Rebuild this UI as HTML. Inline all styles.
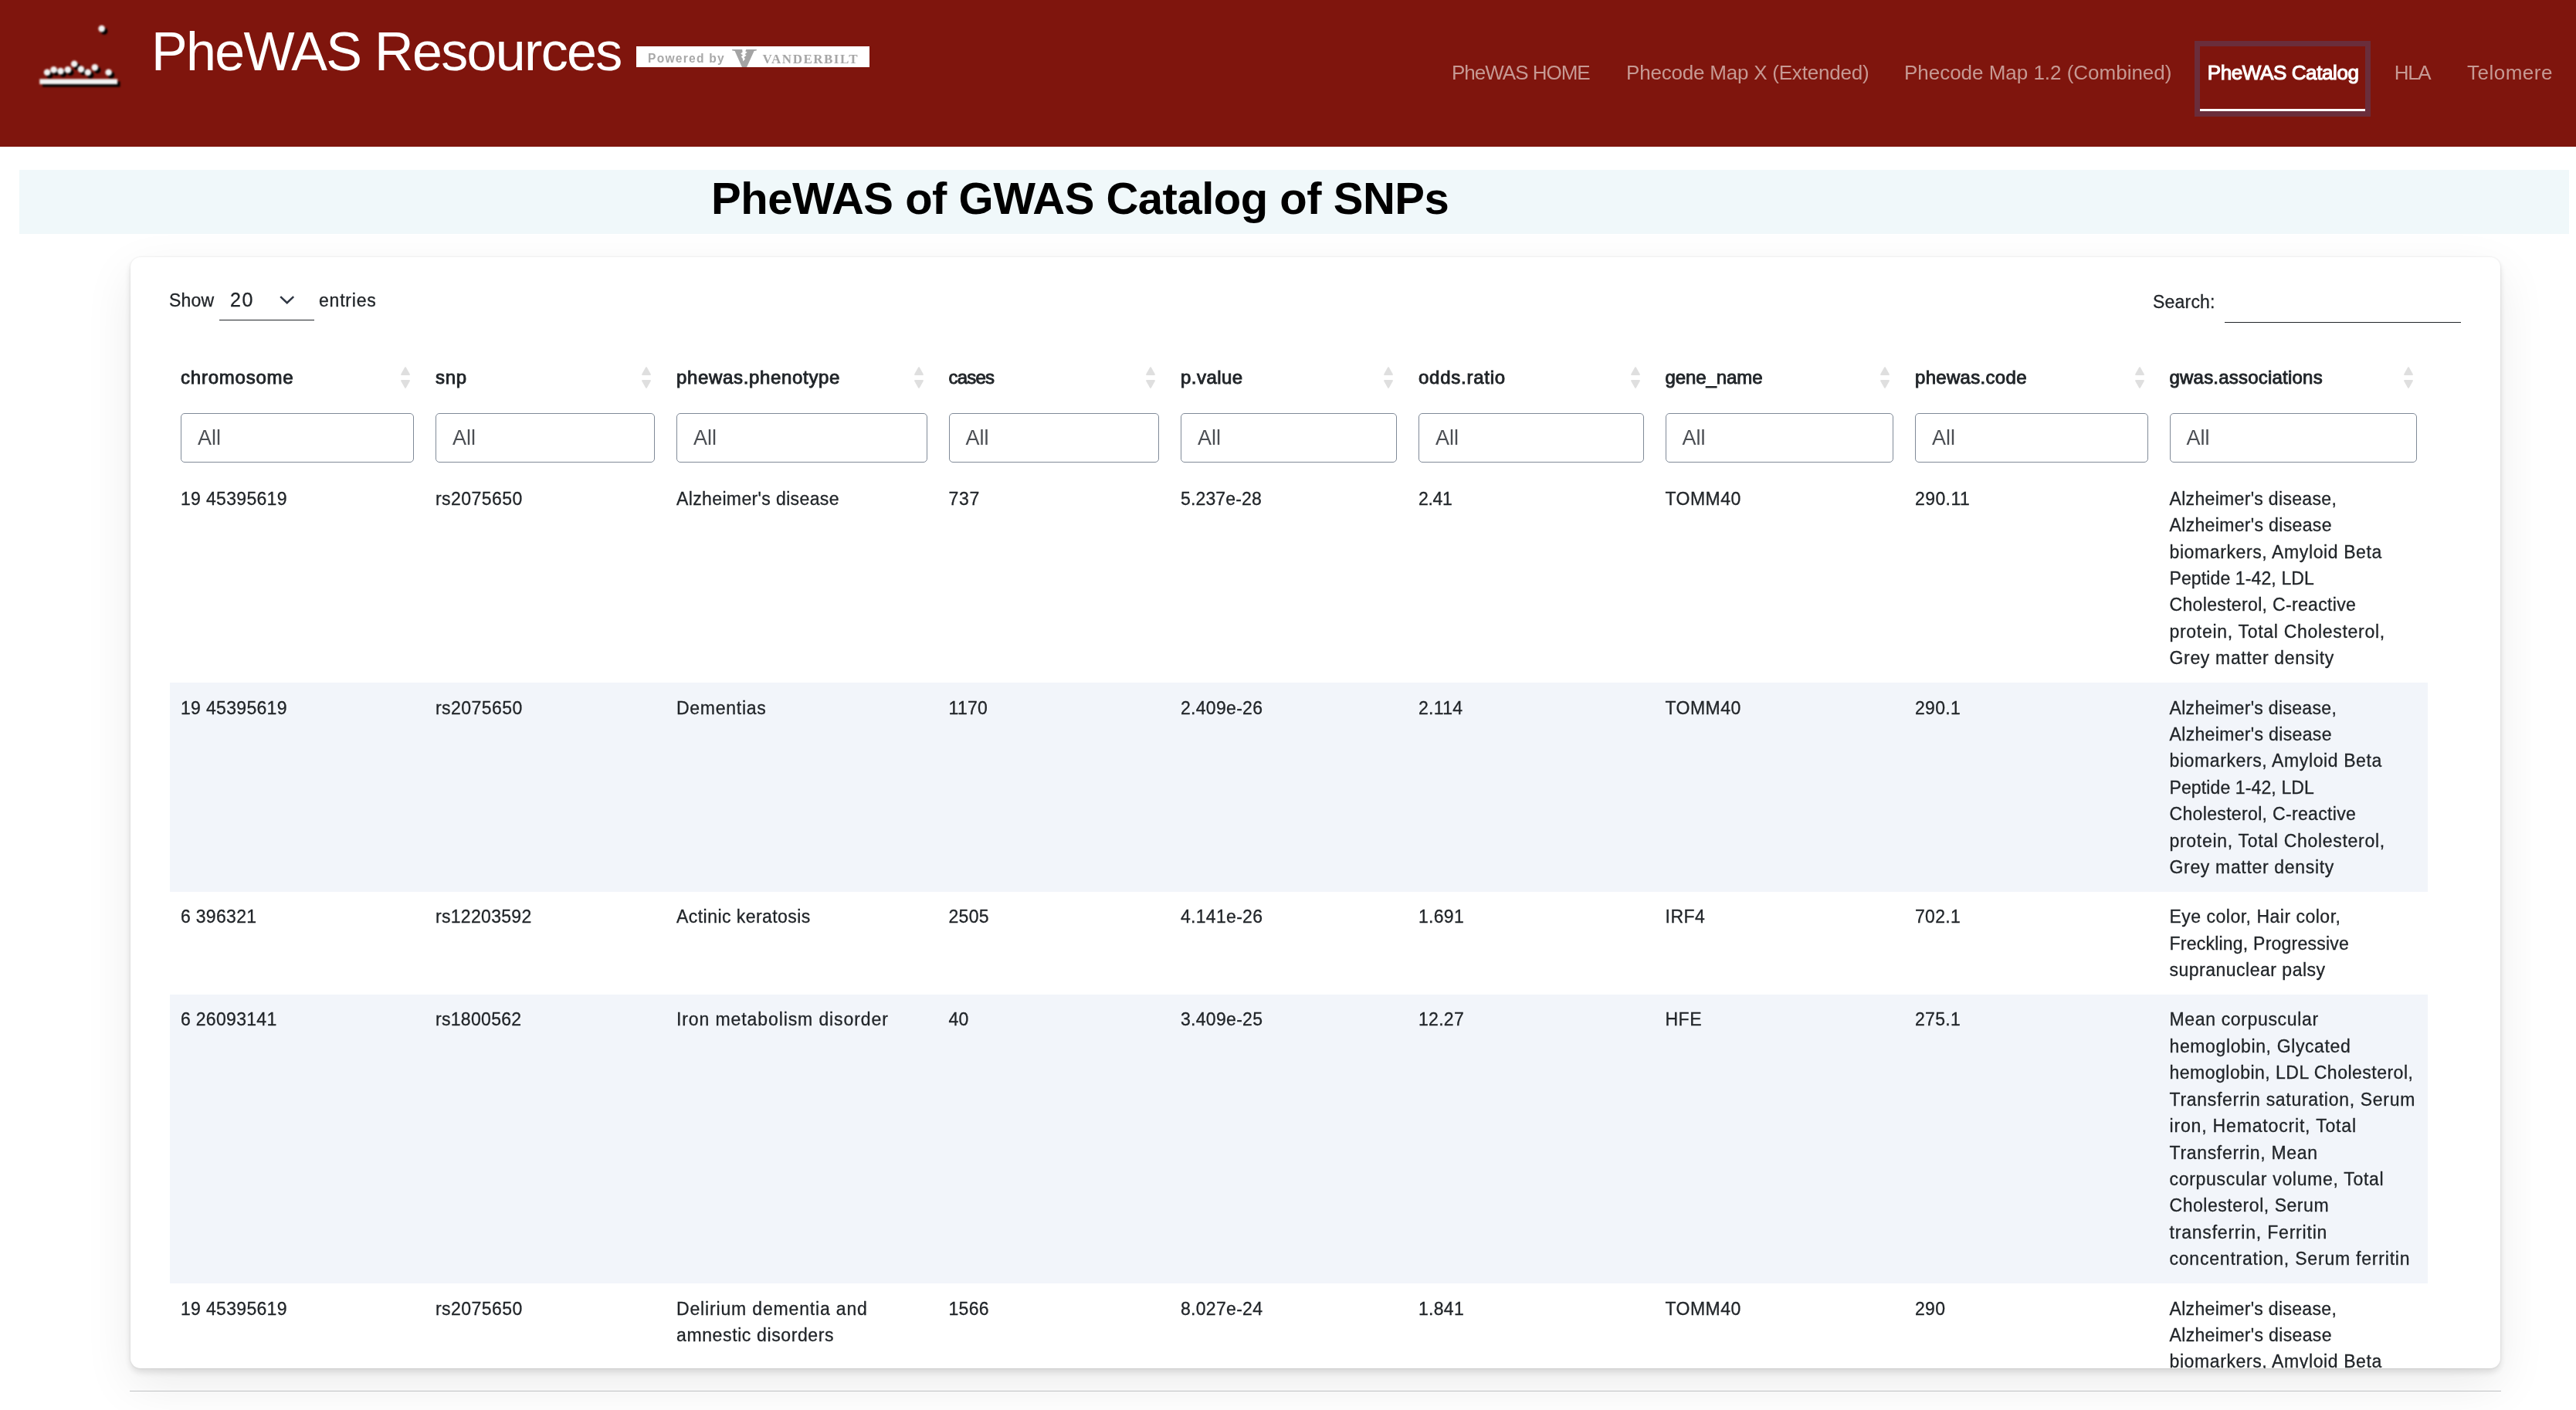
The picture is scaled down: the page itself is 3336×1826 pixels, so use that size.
<!DOCTYPE html>
<html lang="en">
<head>
<meta charset="utf-8">
<title>PheWAS Resources - PheWAS Catalog</title>
<style>
html,body{margin:0;padding:0;}
@media (max-width:2000px){html{zoom:.5;}}
body{width:3336px;height:1826px;overflow:hidden;background:#fff;position:relative;
  font-family:"Liberation Sans",Arial,sans-serif;color:#212529;}
#wrap{position:absolute;left:0;top:0;width:3336px;height:1826px;overflow:hidden;will-change:transform;}
.abs{position:absolute;white-space:nowrap;}
/* ---------- header ---------- */
#hdr{position:absolute;left:0;top:0;width:3336px;height:190px;background:#7f150d;}
#brand{text-decoration:none;left:196px;top:17px;font-size:70px;line-height:100px;color:#fff;letter-spacing:-1.68px;}
#badge{position:absolute;left:824px;top:60px;width:302px;height:27px;background:#fff;overflow:hidden;}
#badge .pb{left:15px;top:6px;font-size:15.6px;line-height:20px;font-weight:bold;color:#a8a8a8;letter-spacing:1.25px;filter:blur(.35px);}
#badge .vu{left:163.5px;top:6.5px;font-family:"Liberation Serif","DejaVu Serif",serif;font-size:17px;line-height:20px;font-weight:bold;color:#a6a6a6;letter-spacing:1.5px;filter:blur(.35px);}
.nav{text-decoration:none;color:#c69993;font-size:26px;line-height:40px;top:74px;}
#nav4{color:#fff;-webkit-text-stroke:1.1px #fff;}
#ring{position:absolute;left:2842px;top:53px;width:214px;height:84px;border:7px solid #6a2d3b;}
#uline{position:absolute;left:2849px;top:141px;width:214px;height:3px;background:#fff;}
/* ---------- title band ---------- */
#band{position:absolute;left:25px;top:220px;width:3302px;height:83px;background:#f0f8fa;}
#ttl{margin:0;left:921px;top:211.5px;font-size:58px;line-height:90px;font-weight:bold;color:#000;letter-spacing:-.49px;}
/* ---------- card ---------- */
#card{position:absolute;left:169px;top:333px;width:3069px;height:1439px;background:#fff;border-radius:13px;
  box-shadow:0 22px 64px rgba(0,0,0,.08),0 5px 10px rgba(0,0,0,.12),0 0 3px rgba(0,0,0,.1);overflow:hidden;}
#hr{position:absolute;left:168px;top:1801px;width:3071px;height:1px;background:#bfc1c3;}
.ctl{font-size:23px;line-height:34px;-webkit-text-stroke:.3px #212529;}
#selline{position:absolute;left:115px;top:81px;width:123px;height:1px;background:#212529;}
#srchline{position:absolute;left:2712px;top:84px;width:306px;height:1px;background:#212529;}
/* ---------- table ---------- */
table{position:absolute;left:51px;top:126px;border-collapse:collapse;table-layout:fixed;width:2923.5px;}
th,td{padding:0 14px;text-align:left;vertical-align:top;white-space:nowrap;font-size:23px;line-height:34.42px;font-weight:normal;letter-spacing:.5px;}
tr.h1 th{height:62px;font-size:24px;-webkit-text-stroke:.9px #212529;position:relative;letter-spacing:.1px;}
tr.h1 th span{position:absolute;left:14px;top:13px;}
tr.h1 th svg{position:absolute;right:19px;top:16px;}
tr.h2 th{height:92px;}
tr.h2 th div{margin-top:14px;height:62px;border:1px solid #808a98;border-radius:5px;box-sizing:content-box;
  font-size:27px;line-height:62px;color:#4b4e53;padding-left:21px;letter-spacing:0;}
td{padding-top:15.7px;padding-bottom:14.2px;-webkit-text-stroke:.3px #212529;}
tr.s td{background:#f2f5fa;}
td.n{letter-spacing:.3px;}
</style>
</head>
<body>
<div id="wrap">
<header id="hdr">
  <svg class="abs" style="left:30px;top:10px;filter:blur(.8px)" width="160" height="120" viewBox="0 0 160 120">
    <g fill="#000">
      <rect x="25" y="95.5" width="100.5" height="7"/>
      <circle cx="105" cy="30.4" r="4.3"/>
      <circle cx="34.4" cy="87.1" r="4.3"/><circle cx="42.9" cy="83.7" r="4.3"/><circle cx="51.8" cy="85.4" r="4.3"/>
      <circle cx="61.2" cy="83.7" r="4.3"/><circle cx="69.5" cy="76.1" r="4.3"/><circle cx="78.2" cy="82.9" r="4.3"/>
      <circle cx="87.1" cy="87.1" r="4.3"/><circle cx="96.1" cy="80.7" r="4.3"/><circle cx="113.9" cy="87.1" r="4.3"/>
    </g>
    <g fill="#f2f2f2">
      <rect x="21.3" y="92.3" width="100.8" height="6.8"/>
      <circle cx="101.7" cy="27.1" r="4.3"/>
      <circle cx="31.1" cy="83.8" r="4.3"/><circle cx="39.6" cy="80.4" r="4.3"/><circle cx="48.5" cy="82.1" r="4.3"/>
      <circle cx="57.9" cy="80.4" r="4.3"/><circle cx="66.2" cy="72.8" r="4.3"/><circle cx="74.9" cy="79.6" r="4.3"/>
      <circle cx="83.8" cy="83.8" r="4.3"/><circle cx="92.8" cy="77.4" r="4.3"/><circle cx="110.6" cy="83.8" r="4.3"/>
    </g>
  </svg>
  <a id="brand" class="abs" href="#">PheWAS Resources</a>
  <div id="badge">
    <div class="abs pb">Powered by</div>
    <svg class="abs" style="left:123px;top:3px;filter:blur(.45px)" width="34" height="25" viewBox="0 0 34 25">
      <path d="M1 1 L33 1 L32.6 2.4 L29.6 3 L19.6 25 L14.4 25 L4.6 3 L1.4 2.4 Z" fill="#a4a4a4"/>
      <path d="M14.2 1 L19.4 1 L18.2 3.6 L20.6 4.6 L17.6 7.2 L19.6 8.8 L16.4 11.2 L18 13.2 L15.4 16.4 L14.6 12.6 L12.8 10.6 L15 8.6 L12.2 6.6 L14.6 4.4 Z" fill="#fff"/>
    </svg>
    <div class="abs vu">VANDERBILT</div>
  </div>
  <a class="abs nav" id="nav1" href="#" style="left:1880px;letter-spacing:-1.01px">PheWAS HOME</a>
  <a class="abs nav" id="nav2" href="#" style="left:2106px;letter-spacing:-0.21px">Phecode Map X (Extended)</a>
  <a class="abs nav" id="nav3" href="#" style="left:2466px;letter-spacing:-0.02px">Phecode Map 1.2 (Combined)</a>
  <div id="ring"></div><div id="uline"></div>
  <a class="abs nav" id="nav4" href="#" style="left:2858.8px;letter-spacing:-0.40px">PheWAS Catalog</a>
  <a class="abs nav" id="nav5" href="#" style="left:3100.7px;letter-spacing:-1.30px">HLA</a>
  <a class="abs nav" id="nav6" href="#" style="left:3195px;letter-spacing:0.50px">Telomere</a>
</header>

<div id="band"></div>
<h1 id="ttl" class="abs">PheWAS of GWAS Catalog of SNPs</h1>

<div id="card">
  <div class="abs ctl" id="c1" style="left:50px;top:39px;letter-spacing:.2px">Show</div>
  <div class="abs ctl" id="c2" style="left:129px;top:38px;font-size:25px;letter-spacing:1.6px">20</div>
  <svg class="abs" style="left:191px;top:48px" width="24" height="16" viewBox="0 0 24 16"><path d="M3.2 3.2 L11.7 11.2 L20.2 3.2" fill="none" stroke="#2f3643" stroke-width="2.5"/></svg>
  <div id="selline"></div>
  <div class="abs ctl" id="c3" style="left:244px;top:39px;letter-spacing:.8px">entries</div>
  <div class="abs ctl" id="c4" style="left:2619px;top:41px;letter-spacing:.2px">Search:</div>
  <div id="srchline"></div>

  <table>
    <colgroup><col style="width:330px"><col style="width:312px"><col style="width:352.5px"><col style="width:300.5px"><col style="width:308px"><col style="width:319.5px"><col style="width:323.5px"><col style="width:329.5px"><col style="width:348px"></colgroup>
    <thead>
      <tr class="h1">
        <th><span style="letter-spacing:0.77px">chromosome</span><svg width="12" height="28" viewBox="0 0 12 28"><path d="M6 1.2 L10.9 10 L1.1 10 Z M1.1 18 L10.9 18 L6 26.8 Z" fill="#dfdfdf" stroke="#dfdfdf" stroke-width="2" stroke-linejoin="round"/></svg></th>
        <th><span style="letter-spacing:0.72px">snp</span><svg width="12" height="28" viewBox="0 0 12 28"><path d="M6 1.2 L10.9 10 L1.1 10 Z M1.1 18 L10.9 18 L6 26.8 Z" fill="#dfdfdf" stroke="#dfdfdf" stroke-width="2" stroke-linejoin="round"/></svg></th>
        <th><span style="letter-spacing:0.66px">phewas.phenotype</span><svg width="12" height="28" viewBox="0 0 12 28"><path d="M6 1.2 L10.9 10 L1.1 10 Z M1.1 18 L10.9 18 L6 26.8 Z" fill="#dfdfdf" stroke="#dfdfdf" stroke-width="2" stroke-linejoin="round"/></svg></th>
        <th><span style="letter-spacing:-0.82px">cases</span><svg width="12" height="28" viewBox="0 0 12 28"><path d="M6 1.2 L10.9 10 L1.1 10 Z M1.1 18 L10.9 18 L6 26.8 Z" fill="#dfdfdf" stroke="#dfdfdf" stroke-width="2" stroke-linejoin="round"/></svg></th>
        <th><span style="letter-spacing:0.47px">p.value</span><svg width="12" height="28" viewBox="0 0 12 28"><path d="M6 1.2 L10.9 10 L1.1 10 Z M1.1 18 L10.9 18 L6 26.8 Z" fill="#dfdfdf" stroke="#dfdfdf" stroke-width="2" stroke-linejoin="round"/></svg></th>
        <th><span style="letter-spacing:0.75px">odds.ratio</span><svg width="12" height="28" viewBox="0 0 12 28"><path d="M6 1.2 L10.9 10 L1.1 10 Z M1.1 18 L10.9 18 L6 26.8 Z" fill="#dfdfdf" stroke="#dfdfdf" stroke-width="2" stroke-linejoin="round"/></svg></th>
        <th><span style="letter-spacing:-0.08px">gene_name</span><svg width="12" height="28" viewBox="0 0 12 28"><path d="M6 1.2 L10.9 10 L1.1 10 Z M1.1 18 L10.9 18 L6 26.8 Z" fill="#dfdfdf" stroke="#dfdfdf" stroke-width="2" stroke-linejoin="round"/></svg></th>
        <th><span style="letter-spacing:0.31px">phewas.code</span><svg width="12" height="28" viewBox="0 0 12 28"><path d="M6 1.2 L10.9 10 L1.1 10 Z M1.1 18 L10.9 18 L6 26.8 Z" fill="#dfdfdf" stroke="#dfdfdf" stroke-width="2" stroke-linejoin="round"/></svg></th>
        <th><span style="letter-spacing:0.21px">gwas.associations</span><svg width="12" height="28" viewBox="0 0 12 28"><path d="M6 1.2 L10.9 10 L1.1 10 Z M1.1 18 L10.9 18 L6 26.8 Z" fill="#dfdfdf" stroke="#dfdfdf" stroke-width="2" stroke-linejoin="round"/></svg></th>
      </tr>
      <tr class="h2">
        <th><div>All</div></th><th><div>All</div></th><th><div>All</div></th><th><div>All</div></th><th><div>All</div></th><th><div>All</div></th><th><div>All</div></th><th><div>All</div></th><th><div>All</div></th>
      </tr>
    </thead>
    <tbody>
      <tr>
        <td><span style="letter-spacing:0.32px">19 45395619</span></td><td><span style="letter-spacing:0.46px">rs2075650</span></td><td><span style="letter-spacing:0.37px">Alzheimer's disease</span></td><td><span style="letter-spacing:0.66px">737</span></td><td><span style="letter-spacing:0.15px">5.237e-28</span></td><td><span style="letter-spacing:-0.36px">2.41</span></td><td><span style="letter-spacing:0.45px">TOMM40</span></td><td><span style="letter-spacing:0.41px">290.11</span></td>
        <td><span style="letter-spacing:0.32px">Alzheimer's disease,</span><br><span style="letter-spacing:0.34px">Alzheimer's disease</span><br><span style="letter-spacing:0.61px">biomarkers, Amyloid Beta</span><br><span style="letter-spacing:0.12px">Peptide 1-42, LDL</span><br><span style="letter-spacing:0.34px">Cholesterol, C-reactive</span><br><span style="letter-spacing:0.70px">protein, Total Cholesterol,</span><br><span style="letter-spacing:0.67px">Grey matter density</span></td>
      </tr>
      <tr class="s">
        <td><span style="letter-spacing:0.32px">19 45395619</span></td><td><span style="letter-spacing:0.46px">rs2075650</span></td><td><span style="letter-spacing:0.73px">Dementias</span></td><td><span style="letter-spacing:0.30px">1170</span></td><td><span style="letter-spacing:0.30px">2.409e-26</span></td><td><span style="letter-spacing:0.30px">2.114</span></td><td><span style="letter-spacing:0.45px">TOMM40</span></td><td><span style="letter-spacing:0.30px">290.1</span></td>
        <td><span style="letter-spacing:0.32px">Alzheimer's disease,</span><br><span style="letter-spacing:0.34px">Alzheimer's disease</span><br><span style="letter-spacing:0.61px">biomarkers, Amyloid Beta</span><br><span style="letter-spacing:0.12px">Peptide 1-42, LDL</span><br><span style="letter-spacing:0.34px">Cholesterol, C-reactive</span><br><span style="letter-spacing:0.70px">protein, Total Cholesterol,</span><br><span style="letter-spacing:0.67px">Grey matter density</span></td>
      </tr>
      <tr>
        <td><span style="letter-spacing:0.30px">6 396321</span></td><td><span style="letter-spacing:0.30px">rs12203592</span></td><td><span style="letter-spacing:0.45px">Actinic keratosis</span></td><td><span style="letter-spacing:0.30px">2505</span></td><td><span style="letter-spacing:0.30px">4.141e-26</span></td><td><span style="letter-spacing:0.30px">1.691</span></td><td><span style="letter-spacing:0.50px">IRF4</span></td><td><span style="letter-spacing:0.30px">702.1</span></td>
        <td><span style="letter-spacing:0.50px">Eye color, Hair color,</span><br><span style="letter-spacing:0.23px">Freckling, Progressive</span><br><span style="letter-spacing:0.50px">supranuclear palsy</span></td>
      </tr>
      <tr class="s">
        <td><span style="letter-spacing:0.30px">6 26093141</span></td><td><span style="letter-spacing:0.30px">rs1800562</span></td><td><span style="letter-spacing:0.90px">Iron metabolism disorder</span></td><td><span style="letter-spacing:0.30px">40</span></td><td><span style="letter-spacing:0.30px">3.409e-25</span></td><td><span style="letter-spacing:0.30px">12.27</span></td><td><span style="letter-spacing:0.50px">HFE</span></td><td><span style="letter-spacing:0.30px">275.1</span></td>
        <td><span style="letter-spacing:0.65px">Mean corpuscular</span><br><span style="letter-spacing:0.62px">hemoglobin, Glycated</span><br><span style="letter-spacing:0.49px">hemoglobin, LDL Cholesterol,</span><br><span style="letter-spacing:0.70px">Transferrin saturation, Serum</span><br><span style="letter-spacing:0.83px">iron, Hematocrit, Total</span><br><span style="letter-spacing:0.68px">Transferrin, Mean</span><br><span style="letter-spacing:0.70px">corpuscular volume, Total</span><br><span style="letter-spacing:0.54px">Cholesterol, Serum</span><br><span style="letter-spacing:0.80px">transferrin, Ferritin</span><br><span style="letter-spacing:0.79px">concentration, Serum ferritin</span></td>
      </tr>
      <tr>
        <td><span style="letter-spacing:0.32px">19 45395619</span></td><td><span style="letter-spacing:0.46px">rs2075650</span></td><td><span style="letter-spacing:0.84px">Delirium dementia and</span><br><span style="letter-spacing:0.62px">amnestic disorders</span></td><td><span style="letter-spacing:0.30px">1566</span></td><td><span style="letter-spacing:0.30px">8.027e-24</span></td><td><span style="letter-spacing:0.30px">1.841</span></td><td><span style="letter-spacing:0.45px">TOMM40</span></td><td><span style="letter-spacing:0.30px">290</span></td>
        <td><span style="letter-spacing:0.32px">Alzheimer's disease,</span><br><span style="letter-spacing:0.34px">Alzheimer's disease</span><br><span style="letter-spacing:0.61px">biomarkers, Amyloid Beta</span><br><span style="letter-spacing:0.12px">Peptide 1-42, LDL</span><br><span style="letter-spacing:0.34px">Cholesterol, C-reactive</span><br><span style="letter-spacing:0.70px">protein, Total Cholesterol,</span><br><span style="letter-spacing:0.67px">Grey matter density</span></td>
      </tr>
    </tbody>
  </table>
</div>
<div id="hr"></div>
</div>
</body>
</html>
